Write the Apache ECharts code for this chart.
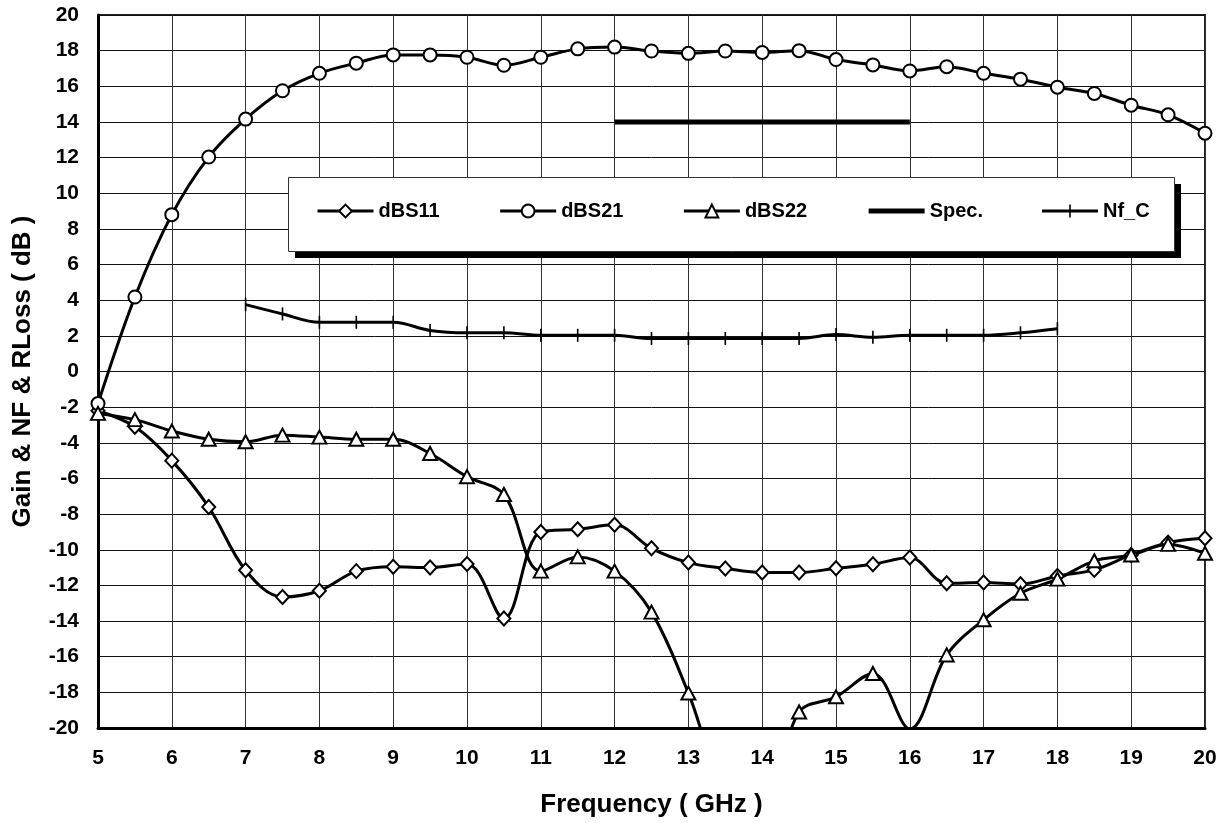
<!DOCTYPE html>
<html>
<head>
<meta charset="utf-8">
<script src="https://cdn.jsdelivr.net/npm/echarts@6/dist/echarts.min.js"></script>
<style>
html,body{margin:0;padding:0;background:#fff;}
#chart{width:1231px;height:823px;}
</style>
</head>
<body>
<div id="chart"></div>
<script>
var freq = [5,5.5,6,6.5,7,7.5,8,8.5,9,9.5,10,10.5,11,11.5,12,12.5,13,13.5,14,14.5,15,15.5,16,16.5,17,17.5,18,18.5,19,19.5,20];
var dBS11 = [-2.2,-3.1,-5.0,-7.6,-11.15,-12.65,-12.3,-11.2,-10.95,-11.0,-10.8,-13.86,-9.0,-8.85,-8.6,-9.92,-10.72,-11.05,-11.28,-11.28,-11.04,-10.81,-10.44,-11.88,-11.84,-11.93,-11.47,-11.13,-10.29,-9.6,-9.36];
var dBS21 = [-1.8,4.18,8.8,12.03,14.16,15.75,16.73,17.3,17.76,17.76,17.63,17.18,17.63,18.1,18.2,17.98,17.85,17.98,17.9,18.0,17.5,17.2,16.86,17.1,16.73,16.4,15.95,15.6,14.94,14.4,13.37];
var dBS22 = [-2.35,-2.7,-3.34,-3.8,-3.94,-3.57,-3.68,-3.8,-3.8,-4.6,-5.9,-6.9,-11.2,-10.4,-11.2,-13.5,-18.04,-23.5,-24.5,-19.1,-18.25,-16.94,-20.05,-15.9,-13.93,-12.44,-11.65,-10.62,-10.29,-9.7,-10.2];
var specFreq = [12,12.5,13,13.5,14,14.5,15,15.5,16];
var spec = [14,14,14,14,14,14,14,14,14];
var nfFreq = [7,7.5,8,8.5,9,9.5,10,10.5,11,11.5,12,12.5,13,13.5,14,14.5,15,15.5,16,16.5,17,17.5,18];
var nfC = [3.75,3.23,2.76,2.76,2.76,2.3,2.17,2.17,2.03,2.03,2.03,1.85,1.85,1.85,1.85,1.85,2.07,1.92,2.03,2.03,2.03,2.17,2.4];
var xTicks = {min:5, max:20, interval:1};
var yTicks = {min:-20, max:20, interval:2};

function pairs(xs, ys){ return xs.map(function(x,i){ return [x, ys[i]]; }); }

var FONT = '"Liberation Sans", Arial, sans-serif';
var markerStyle = {color:'#fff', borderColor:'#000', borderWidth:2};
var lineSt = {color:'#000', width:3};

var chart = echarts.init(document.getElementById('chart'), null, {renderer:'canvas'});
chart.setOption({
  backgroundColor:'#fff',
  animation:false,
  grid:{left:98, right:26, top:15, bottom:94, show:true, borderColor:'#222', borderWidth:2, backgroundColor:'#fff'},
  graphic:[
    {type:'rect', z:10, shape:{x:295, y:184, width:886, height:74}, style:{fill:'#000'}},
    {type:'rect', z:11, shape:{x:288.5, y:177.5, width:886, height:74}, style:{fill:'#fff', stroke:'#333', lineWidth:1}}
  ],
  legend:{
    left:288, top:177, z:20,
    padding:[24,26,24,28],
    itemGap:59, itemWidth:56, itemHeight:16,
    lineStyle:{width:3, color:'#000'},
    textStyle:{fontFamily:FONT, fontWeight:'bold', fontSize:20, color:'#000'},
    data:[
      {name:'dBS11'},
      {name:'dBS21'},
      {name:'dBS22'},
      {name:'Spec.', itemStyle:{color:'rgba(0,0,0,0)', borderWidth:0, borderColor:'rgba(0,0,0,0)'}, lineStyle:{width:5, color:'#000'}},
      {name:'Nf_C', icon:'path://M0,6.5h56v3h-56z M27.2,1.5h1.6v13h-1.6z', itemStyle:{color:'#000', borderWidth:0}}
    ]
  },
  xAxis:{
    type:'value', min:xTicks.min, max:xTicks.max, interval:xTicks.interval,
    name:'Frequency ( GHz )', nameLocation:'middle', nameGap:64,
    nameTextStyle:{fontFamily:FONT, fontWeight:'bold', fontSize:26, color:'#000'},
    axisLine:{show:true, onZero:false, lineStyle:{color:'#000', width:3}},
    axisTick:{show:false},
    axisLabel:{margin:20, fontFamily:FONT, fontWeight:'bold', fontSize:21, color:'#000'},
    splitLine:{show:true, lineStyle:{color:'#333', width:1}}
  },
  yAxis:{
    type:'value', min:yTicks.min, max:yTicks.max, interval:yTicks.interval,
    name:'Gain & NF & RLoss ( dB )', nameLocation:'middle', nameGap:62, nameRotate:90,
    nameTextStyle:{fontFamily:FONT, fontWeight:'bold', fontSize:26, color:'#000'},
    axisLine:{show:true, onZero:false, lineStyle:{color:'#000', width:3}},
    axisTick:{show:false},
    axisLabel:{margin:19, fontFamily:FONT, fontWeight:'bold', fontSize:21, color:'#000'},
    splitLine:{show:true, lineStyle:{color:'#111', width:1}}
  },
  series:[
    {name:'dBS11', type:'line', data:pairs(freq,dBS11), smooth:0.35, symbol:'diamond', symbolSize:[13,14],
     itemStyle:markerStyle, lineStyle:lineSt, z:3},
    {name:'dBS21', type:'line', data:pairs(freq,dBS21), smooth:0.35, symbol:'circle', symbolSize:13,
     itemStyle:markerStyle, lineStyle:lineSt, z:3},
    {name:'dBS22', type:'line', data:pairs(freq,dBS22), smooth:0.35, symbol:'triangle', symbolSize:[14,13],
     itemStyle:markerStyle, lineStyle:lineSt, clip:true, z:3},
    {name:'Spec.', type:'line', data:pairs(specFreq,spec), symbol:'none',
     itemStyle:{color:'#000'}, lineStyle:{color:'#000', width:5}, z:2},
    {name:'Nf_C', type:'line', data:pairs(nfFreq,nfC), smooth:0.35, symbol:'path://M0,0h1v8h-1z', symbolSize:13, symbolKeepAspect:true,
     itemStyle:{color:'#000', borderColor:'#000', borderWidth:0}, lineStyle:lineSt, z:3}
  ]
});
</script>
</body>
</html>
